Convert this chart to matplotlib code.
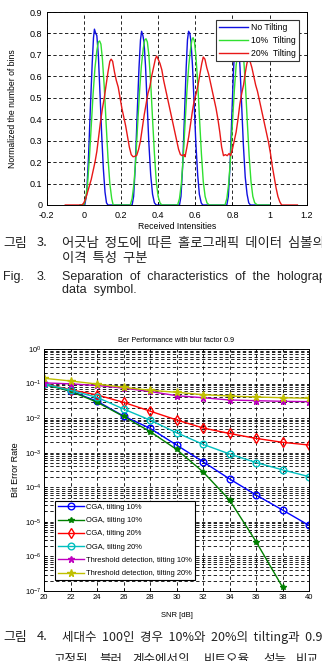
import numpy as np
import matplotlib
matplotlib.use('Agg')
import matplotlib.pyplot as plt

plt.rcParams['font.family'] = ['Liberation Sans', 'DejaVu Sans']
plt.rcParams['axes.unicode_minus'] = False

# ---------------------------
# Datos figura 3 (histogramas)
# ---------------------------
blue_x = [-0.02, 0.005, 0.015, 0.025, 0.035, 0.045, 0.052, 0.057, 0.064, 0.07, 0.078, 0.087, 0.096, 0.105, 0.114, 0.122, 0.13,
          0.26, 0.268, 0.277, 0.287, 0.297, 0.305, 0.311, 0.318, 0.324, 0.332, 0.341, 0.35, 0.36, 0.37, 0.38, 0.39,
          0.515, 0.523, 0.532, 0.542, 0.551, 0.558, 0.564, 0.571, 0.577, 0.585, 0.594, 0.603, 0.613, 0.622, 0.632, 0.64,
          0.77, 0.778, 0.787, 0.797, 0.806, 0.814, 0.82, 0.827, 0.833, 0.841, 0.85, 0.859, 0.869, 0.879, 0.888, 0.897, 1.0]
blue_y = [0, 0, 0.05, 0.22, 0.45, 0.66, 0.78, 0.82, 0.80, 0.79, 0.70, 0.52, 0.33, 0.17, 0.06, 0.01, 0,
          0, 0.04, 0.18, 0.42, 0.64, 0.77, 0.81, 0.79, 0.76, 0.65, 0.47, 0.29, 0.14, 0.05, 0.01, 0,
          0, 0.04, 0.18, 0.42, 0.64, 0.77, 0.81, 0.80, 0.76, 0.65, 0.47, 0.29, 0.14, 0.05, 0.01, 0,
          0, 0.04, 0.18, 0.42, 0.63, 0.76, 0.80, 0.79, 0.75, 0.64, 0.46, 0.28, 0.13, 0.05, 0.01, 0, 0]

green_x = [-0.02, 0.0, 0.01, 0.02, 0.03, 0.04, 0.05, 0.06, 0.07, 0.078, 0.085, 0.092, 0.1, 0.11, 0.12, 0.13, 0.14, 0.15, 0.158,
           0.25, 0.26, 0.27, 0.28, 0.29, 0.3, 0.31, 0.32, 0.328, 0.335, 0.342, 0.35, 0.36, 0.37, 0.38, 0.39, 0.4, 0.41, 0.42,
           0.505, 0.515, 0.525, 0.535, 0.545, 0.555, 0.565, 0.575, 0.582, 0.588, 0.595, 0.603, 0.613, 0.623, 0.633, 0.643, 0.653, 0.663, 0.675,
           0.76, 0.77, 0.78, 0.79, 0.8, 0.81, 0.82, 0.83, 0.838, 0.845, 0.852, 0.86, 0.87, 0.88, 0.89, 0.9, 0.91, 0.92, 0.935, 1.0]
green_y = [0, 0, 0.03, 0.10, 0.22, 0.37, 0.52, 0.64, 0.72, 0.76, 0.765, 0.75, 0.68, 0.55, 0.38, 0.22, 0.10, 0.03, 0,
           0, 0.03, 0.10, 0.22, 0.38, 0.53, 0.65, 0.73, 0.77, 0.775, 0.76, 0.70, 0.57, 0.40, 0.24, 0.11, 0.04, 0.01, 0,
           0, 0.03, 0.10, 0.22, 0.38, 0.53, 0.65, 0.73, 0.77, 0.78, 0.765, 0.70, 0.57, 0.40, 0.24, 0.11, 0.04, 0.01, 0,
           0, 0.03, 0.10, 0.22, 0.38, 0.53, 0.65, 0.72, 0.755, 0.76, 0.75, 0.69, 0.56, 0.39, 0.23, 0.11, 0.04, 0.01, 0, 0]

red_x = [-0.1, -0.01, 0.0, 0.01, 0.02, 0.03, 0.04, 0.05, 0.06, 0.07, 0.08, 0.09, 0.1, 0.11, 0.12, 0.13, 0.14, 0.147, 0.155,
         0.165, 0.175, 0.185, 0.195, 0.205, 0.215, 0.225, 0.235, 0.245, 0.255, 0.265, 0.275, 0.285, 0.295, 0.305, 0.315,
         0.325, 0.335, 0.345, 0.355, 0.365, 0.375, 0.385, 0.392, 0.4, 0.41, 0.42, 0.43, 0.44, 0.45, 0.46, 0.47, 0.48, 0.49,
         0.5, 0.51, 0.52, 0.53, 0.54, 0.545, 0.555, 0.565, 0.575, 0.585, 0.595, 0.605, 0.615, 0.625, 0.635, 0.643, 0.652,
         0.662, 0.672, 0.682, 0.692, 0.702, 0.712, 0.722, 0.732, 0.742, 0.752, 0.762, 0.772, 0.782, 0.79, 0.8, 0.81, 0.82,
         0.83, 0.84, 0.85, 0.86, 0.87, 0.878, 0.887, 0.895, 0.905, 0.915, 0.925, 0.935, 0.945, 0.955, 0.965, 0.975, 0.985,
         0.995, 1.005, 1.015, 1.025, 1.035, 1.045, 1.055, 1.065, 1.15]
red_y = [0, 0, 0.01, 0.03, 0.06, 0.09, 0.12, 0.16, 0.20, 0.25, 0.32, 0.39, 0.45, 0.50, 0.56, 0.62, 0.67, 0.68, 0.67,
         0.62, 0.58, 0.55, 0.50, 0.45, 0.41, 0.37, 0.32, 0.27, 0.235, 0.225, 0.227, 0.232, 0.26, 0.30, 0.36,
         0.42, 0.47, 0.52, 0.55, 0.60, 0.64, 0.68, 0.695, 0.68, 0.66, 0.63, 0.58, 0.54, 0.50, 0.46, 0.42, 0.38, 0.34,
         0.30, 0.26, 0.235, 0.23, 0.235, 0.225, 0.27, 0.32, 0.38, 0.44, 0.49, 0.52, 0.56, 0.61, 0.66, 0.69, 0.68,
         0.64, 0.61, 0.57, 0.53, 0.49, 0.45, 0.40, 0.34, 0.27, 0.23, 0.235, 0.23, 0.24, 0.23, 0.26, 0.30, 0.34,
         0.40, 0.47, 0.52, 0.56, 0.62, 0.66, 0.685, 0.67, 0.64, 0.60, 0.56, 0.53, 0.49, 0.45, 0.41, 0.37, 0.33,
         0.29, 0.24, 0.18, 0.13, 0.08, 0.04, 0.015, 0, 0]

hist_labels = ['No Tilting', '10%  Tilting', '20%  Tilting']
top_xticks = [-0.2, 0, 0.2, 0.4, 0.6, 0.8, 1.0, 1.2]
top_xlabels = ['-0.2', '0', '0.2', '0.4', '0.6', '0.8', '1', '1.2']
top_yticks = [0, 0.1, 0.2, 0.3, 0.4, 0.5, 0.6, 0.7, 0.8, 0.9]
top_ylabels = ['0', '0.1', '0.2', '0.3', '0.4', '0.5', '0.6', '0.7', '0.8', '0.9']

# ---------------------------
# Datos figura 4 (BER)
# ---------------------------
snr = [20, 22, 24, 26, 28, 30, 32, 34, 36, 38, 40]
cga10 = [0.097, 0.061, 0.031, 0.0115, 0.0051, 0.00167, 0.00055, 0.000175, 6.0e-5, 2.2e-5, 7.9e-6]
oga10 = [0.095, 0.060, 0.029, 0.0112, 0.0041, 0.00125, 0.00028, 4.3e-5, 2.7e-6, 1.3e-7]
cga20 = [0.100, 0.066, 0.047, 0.0287, 0.016, 0.0089, 0.0052, 0.0036, 0.0026, 0.0020, 0.00167]
oga20 = [0.098, 0.064, 0.040, 0.0184, 0.0088, 0.0038, 0.00175, 0.00092, 0.00052, 0.00032, 0.000203]
thr10 = [0.105, 0.098, 0.088, 0.074, 0.059, 0.0446, 0.039, 0.0335, 0.032, 0.0307, 0.030]
thr20 = [0.142, 0.119, 0.097, 0.078, 0.064, 0.056, 0.0477, 0.0437, 0.0409, 0.039, 0.0375]
ber_labels = ['CGA, tilting 10%', 'OGA, tilting 10%', 'CGA, tilting 20%', 'OGA, tilting 20%',
              'Threshold detection, tilting 10%', 'Threshold detection, tilting 20%']
bot_xticks = [20, 22, 24, 26, 28, 30, 32, 34, 36, 38, 40]

# Textos de los pies de figura
cap3_head = ['그림', '3.']
cap3_l1 = '어긋남  정도에  따른  홀로그래픽  데이터  심볼의'
cap3_l2 = '이격  특성  구분'
cap3_en_head = ['Fig.', '3.']
cap3_l3 = 'Separation  of  characteristics  of  the  holographic'
cap3_l4 = 'data  symbol.'
cap4_head = ['그림', '4.']
cap4_l1 = '세대수  100인  경우  10%와  20%의  tilting과  0.9로'
cap4_l2 = ['고정된', '블러', '계수에서의', '비트오율', '성능', '비교']

kfont = ['Noto Sans CJK KR', 'Liberation Sans']
lfont = ['Liberation Sans', 'DejaVu Sans']
txt_color = '#222222'

W, H = 322, 661
fig = plt.figure(figsize=(W / 100, H / 100), dpi=100)
fig.patch.set_facecolor('white')

def fx(px):
    return px / W

def fy(py):
    return 1 - py / H

def put_words(words, xs, y, family, size):
    for w, x in zip(words, xs):
        fig.text(fx(x), fy(y), w, fontsize=size, family=family, va='center', color=txt_color)

grid_kw = dict(color='black', linestyle=(0, (4, 3)), linewidth=0.6)

# ---------------------------
# Figura 3
# ---------------------------
ax1 = fig.add_axes([fx(46.7), fy(205), (306.7 - 46.7) / W, (205 - 12) / H])
ax1.plot(blue_x, blue_y, color='#1010e0', lw=1.0, label=hist_labels[0])
ax1.plot(green_x, green_y, color='#30e030', lw=1.0, label=hist_labels[1])
ax1.plot(red_x, red_y, color='#e81818', lw=1.0, label=hist_labels[2])
ax1.set_xlim(-0.2, 1.2)
ax1.set_ylim(0, 0.9)
ax1.set_xticks(top_xticks, top_xlabels)
ax1.set_yticks(top_yticks, top_ylabels)
ax1.tick_params(direction='in', labelsize=6.5, length=2, width=0.6)
ax1.tick_params(axis='x', pad=4)
ax1.tick_params(axis='y', pad=3)
ax1.grid(True, **grid_kw)
for s in ax1.spines.values():
    s.set_linewidth(0.7)
ax1.set_xlabel('Received Intensities', fontsize=6.2)
ax1.set_ylabel('Normalized the number of bins', fontsize=6.2)
ax1.xaxis.set_label_coords(0.5, -0.087)
ax1.yaxis.set_label_coords(-0.115, 0.5)
leg1 = ax1.legend(loc='upper right', bbox_to_anchor=(0.986, 0.979), fontsize=6.2,
                  handlelength=3.4, handletextpad=0.3, labelspacing=0.45,
                  borderpad=0.35, fancybox=False, framealpha=1, edgecolor='#333333')
leg1.get_frame().set_linewidth(0.8)

# Pie de figura 3
put_words(cap3_head, [3, 37], 243, kfont, 9.3)
put_words([cap3_l1], [62], 243, kfont, 9.6)
put_words([cap3_l2], [62], 258, kfont, 9.6)
put_words(cap3_en_head, [3, 37], 277, lfont, 9)
put_words([cap3_l3], [62], 277, lfont, 9)
put_words([cap3_l4], [62], 290, lfont, 9)

# ---------------------------
# Figura 4
# ---------------------------
ax2 = fig.add_axes([fx(44), fy(591), (309 - 44) / W, (591 - 349) / H])
ax2.semilogy(snr, cga10, color='#0000ff', lw=1.0, marker='o', ms=4.8, mfc='none', mew=1.0, label=ber_labels[0])
ax2.semilogy(snr[:len(oga10)], oga10, color='#008000', lw=1.0, marker='*', ms=4, label=ber_labels[1])
ax2.semilogy(snr, cga20, color='#ff0000', lw=1.0, marker='d', ms=4.8, mfc='none', mew=1.0, label=ber_labels[2])
ax2.semilogy(snr, oga20, color='#00bfbf', lw=1.0, marker='o', ms=4.8, mfc='none', mew=1.0, label=ber_labels[3])
ax2.semilogy(snr, thr10, color='#bf00bf', lw=1.0, marker='*', ms=5, label=ber_labels[4])
ax2.semilogy(snr, thr20, color='#bfbf00', lw=1.0, marker='*', ms=5.5, label=ber_labels[5])
ax2.set_xlim(20, 40)
ax2.set_ylim(1e-7, 1)
ax2.set_xticks(bot_xticks)
ax2.yaxis.set_major_locator(matplotlib.ticker.LogLocator(base=10, numticks=10))
ax2.yaxis.set_minor_locator(matplotlib.ticker.LogLocator(base=10, subs=np.arange(2, 10), numticks=20))
ax2.yaxis.set_minor_formatter(matplotlib.ticker.NullFormatter())
ax2.tick_params(which='both', direction='in', labelsize=5.5, width=0.6, pad=2)
ax2.tick_params(which='major', length=2.5)
ax2.tick_params(which='minor', length=1.5)
ax2.grid(True, which='major', axis='both', **grid_kw)
ax2.grid(True, which='minor', axis='y', **grid_kw)
for s in ax2.spines.values():
    s.set_linewidth(0.7)
ax2.set_title('Ber Performance with blur factor 0.9', fontsize=5.2, pad=5)
ax2.set_xlabel('SNR [dB]', fontsize=5.5)
ax2.set_ylabel('Bit Error Rate', fontsize=6.5)
ax2.xaxis.set_label_coords(0.5, -0.087)
ax2.yaxis.set_label_coords(-0.09, 0.5)
leg2 = ax2.legend(loc='lower left', bbox_to_anchor=(0.029, 0.029), fontsize=5.4,
                  handlelength=3.4, handletextpad=0.3, labelspacing=0.8,
                  borderpad=0.4, fancybox=False, framealpha=1, edgecolor='black')
leg2.get_frame().set_linewidth(0.8)

# Pie de figura 4
put_words(cap4_head, [3, 37], 637, kfont, 9.3)
put_words([cap4_l1], [62], 637, kfont, 9)
put_words(cap4_l2, [53, 99, 132, 204, 263, 296], 659, kfont, 9)

fig.savefig('out.png', dpi=100)
